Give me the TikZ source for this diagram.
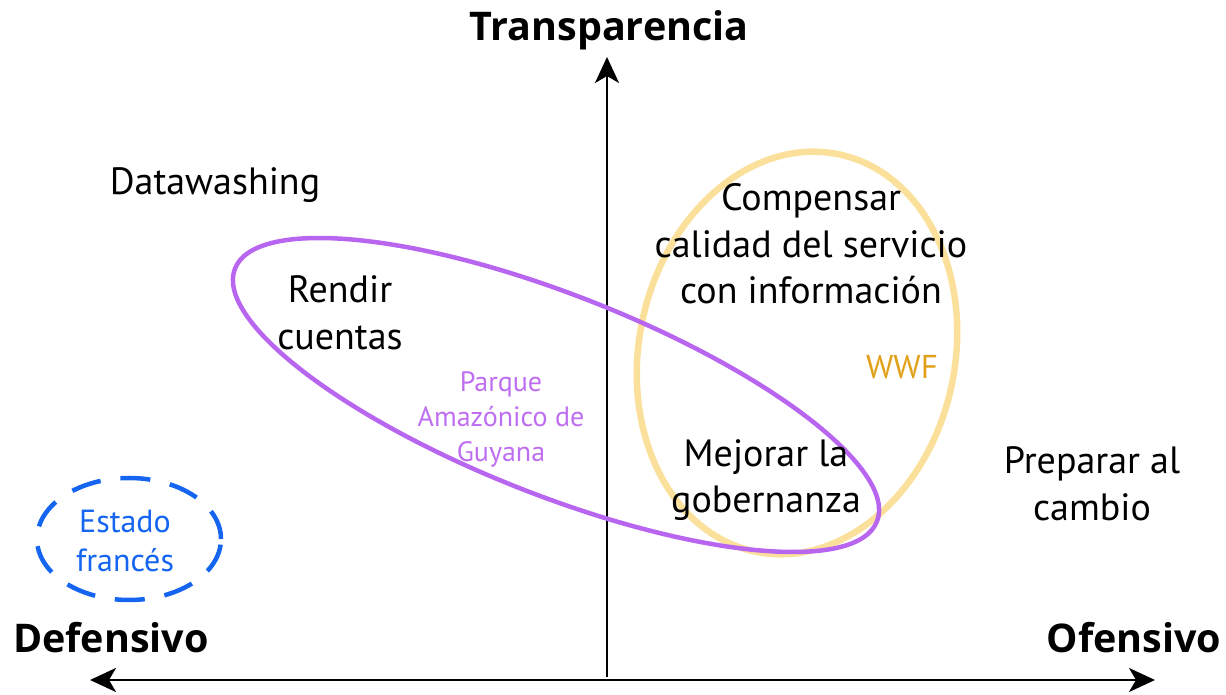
\documentclass[tikz,border=0pt]{standalone}
\usepackage{fontspec}
\setmainfont{PT Sans}
\newfontfamily\titlefont{Open Sans}
\usetikzlibrary{arrows.meta}
\definecolor{purp}{HTML}{B866F0}
\definecolor{purptext}{HTML}{BE6EF0}
\definecolor{yell}{HTML}{FBE09B}
\definecolor{wwf}{HTML}{E0A018}
\definecolor{bluefr}{HTML}{1565F0}
\tikzset{
  axis/.style={line width=2.4pt,-{Stealth[length=26pt,width=24pt,inset=7pt]}},
  axis2/.style={line width=2.4pt,{Stealth[length=26pt,width=24pt,inset=7pt]}-{Stealth[length=26pt,width=24pt,inset=7pt]}},
  title/.style={font=\titlefont\fontsize{39.5}{44}\selectfont\bfseries, inner sep=0pt},
  lab/.style={font=\fontsize{38}{46.5}\selectfont, align=center, inner sep=0pt},
  small/.style={font=\fontsize{28}{35}\selectfont, align=center, inner sep=0pt},
}
\begin{document}
\begin{tikzpicture}[x=1pt,y=1pt]
\useasboundingbox (0,0) rectangle (1226,695);
% axes
\coordinate (vbot) at (607,18);
\coordinate (vtop) at (607,638);
\coordinate (hleft) at (90,15);
\coordinate (hright) at (1155,15);
\draw[axis] (vbot) -- (vtop);
\draw[axis2] (hleft) -- (hright);
% ellipses
\draw[yell, line width=6.5pt] (797,342) ellipse[x radius=158, y radius=203, rotate=-12];
\draw[purp, line width=4.5pt] (556,300) ellipse[x radius=345, y radius=100, rotate=-21.5];
\draw[bluefr, line width=4.5pt, dash pattern=on 30pt off 20pt] (129,156) ellipse[x radius=92, y radius=61];
% titles
\node[title] (trans) at (609,665) {Transparencia};
\node[title] (def) at (111,57) {Defensivo};
\node[title] (ofe) at (1134,57) {Ofensivo};
% labels
\node[lab] (data) at (215,510) {Datawashing};
\node[lab] (rendir) at (340,382) {Rendir\\cuentas};
\node[small, text=purptext] (parque) at (501,276) {Parque\\Amazónico de\\Guyana};
\node[lab] (comp) at (811,451) {Compensar\\calidad del servicio\\con información};
\node[small, font=\fontsize{33}{35}\selectfont, text=wwf] (wwf) at (902,328) {WWF};
\node[lab] (mejorar) at (766,215) {Mejorar la\\gobernanza};
\node[lab] (prep) at (1092,211) {Preparar al\\cambio};
\node[font=\fontsize{32}{39}\selectfont, align=center, inner sep=0pt, text=bluefr] (estado) at (125,154) {Estado\\francés};
\end{tikzpicture}
\end{document}
